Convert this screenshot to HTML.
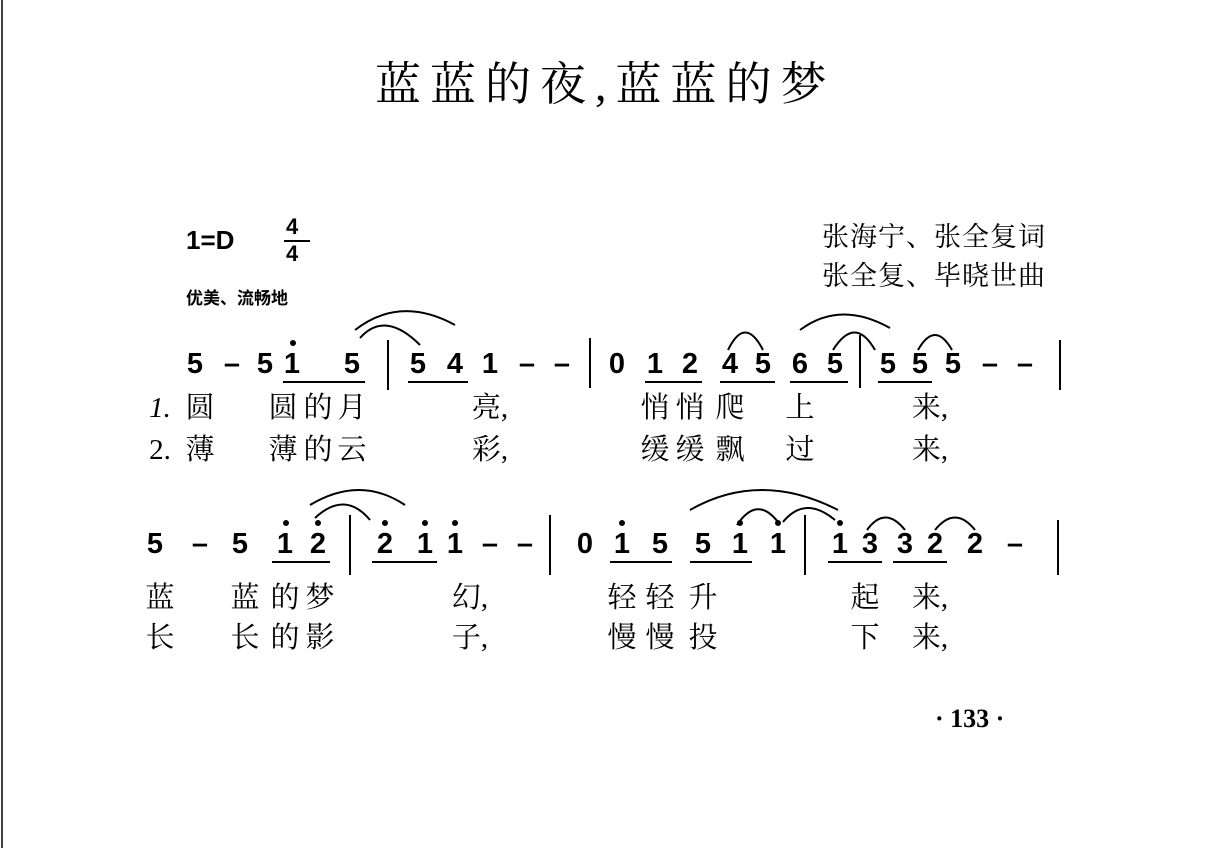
<!DOCTYPE html>
<html><head><meta charset="utf-8"><style>
body{margin:0;background:#fff;}
#p{position:relative;width:1226px;height:848px;overflow:hidden;background:#fff;font-family:"Liberation Sans","Noto Sans CJK SC",sans-serif;color:#000}
.n{position:absolute;font-weight:bold;font-size:29px;transform:translateX(-50%);line-height:1}
.l{position:absolute;font-family:"Liberation Serif","Noto Serif CJK SC",serif;font-size:29px;transform:translateX(-50%);line-height:1}
.t{position:absolute;line-height:1}
svg{position:absolute;left:0;top:0}
</style></head><body><div id="p">
<div class="t" style="left:375px;top:62px;font-size:46px;font-family:'Liberation Serif','Noto Serif CJK SC',serif;letter-spacing:9px">蓝蓝的夜,蓝蓝的梦</div>
<div class="t" style="left:186px;top:227px;font-size:26px;font-weight:bold">1=D</div>
<div class="t" style="left:286px;top:216px;font-size:22px;font-weight:bold">4</div>
<div class="t" style="left:286px;top:243px;font-size:22px;font-weight:bold">4</div>
<div class="t" style="left:186px;top:288px;font-size:17px;font-weight:bold;font-family:'Noto Sans CJK SC',sans-serif">优美、流畅地</div>
<div class="t" style="left:822px;top:224px;font-size:27px;font-family:'Liberation Serif','Noto Serif CJK SC',serif;letter-spacing:1px">张海宁、张全复词</div>
<div class="t" style="left:822px;top:263px;font-size:27px;font-family:'Liberation Serif','Noto Serif CJK SC',serif;letter-spacing:1px">张全复、毕晓世曲</div>
<div class="t" style="left:935px;top:706px;font-size:26px;font-weight:bold;font-family:'Liberation Serif',serif">· 133 ·</div>

<!-- row1 notes -->
<div class="n" style="left:195px;top:350px">5</div><div class="n" style="left:232px;top:350px">–</div>
<div class="n" style="left:265px;top:350px">5</div><div class="n" style="left:292px;top:350px">1</div>
<div class="n" style="left:352px;top:350px">5</div>
<div class="n" style="left:418px;top:350px">5</div><div class="n" style="left:455px;top:350px">4</div>
<div class="n" style="left:490px;top:350px">1</div><div class="n" style="left:527px;top:350px">–</div><div class="n" style="left:562px;top:350px">–</div>
<div class="n" style="left:617px;top:350px">0</div><div class="n" style="left:655px;top:350px">1</div><div class="n" style="left:690px;top:350px">2</div>
<div class="n" style="left:730px;top:350px">4</div><div class="n" style="left:763px;top:350px">5</div>
<div class="n" style="left:800px;top:350px">6</div><div class="n" style="left:835px;top:350px">5</div>
<div class="n" style="left:888px;top:350px">5</div><div class="n" style="left:920px;top:350px">5</div><div class="n" style="left:953px;top:350px">5</div>
<div class="n" style="left:990px;top:350px">–</div><div class="n" style="left:1025px;top:350px">–</div>
<!-- row1 lyrics -->
<div class="l" style="left:160px;top:394px;font-style:italic">1.</div>
<div class="l" style="left:200px;top:394px">圆</div><div class="l" style="left:283px;top:394px">圆</div>
<div class="l" style="left:318px;top:394px">的</div><div class="l" style="left:352px;top:394px">月</div>
<div class="l" style="left:490px;top:394px">亮,</div>
<div class="l" style="left:655px;top:394px">悄</div><div class="l" style="left:690px;top:394px">悄</div><div class="l" style="left:730px;top:394px">爬</div>
<div class="l" style="left:800px;top:394px">上</div><div class="l" style="left:930px;top:394px">来,</div>
<div class="l" style="left:160px;top:436px">2.</div>
<div class="l" style="left:200px;top:436px">薄</div><div class="l" style="left:283px;top:436px">薄</div>
<div class="l" style="left:318px;top:436px">的</div><div class="l" style="left:352px;top:436px">云</div>
<div class="l" style="left:490px;top:436px">彩,</div>
<div class="l" style="left:655px;top:436px">缓</div><div class="l" style="left:690px;top:436px">缓</div><div class="l" style="left:730px;top:436px">飘</div>
<div class="l" style="left:800px;top:436px">过</div><div class="l" style="left:930px;top:436px">来,</div>

<!-- row2 notes -->
<div class="n" style="left:155px;top:530px">5</div><div class="n" style="left:200px;top:530px">–</div>
<div class="n" style="left:240px;top:530px">5</div><div class="n" style="left:285px;top:530px">1</div><div class="n" style="left:318px;top:530px">2</div>
<div class="n" style="left:385px;top:530px">2</div><div class="n" style="left:425px;top:530px">1</div><div class="n" style="left:455px;top:530px">1</div>
<div class="n" style="left:490px;top:530px">–</div><div class="n" style="left:525px;top:530px">–</div>
<div class="n" style="left:585px;top:530px">0</div><div class="n" style="left:622px;top:530px">1</div><div class="n" style="left:660px;top:530px">5</div>
<div class="n" style="left:703px;top:530px">5</div><div class="n" style="left:740px;top:530px">1</div><div class="n" style="left:778px;top:530px">1</div>
<div class="n" style="left:840px;top:530px">1</div><div class="n" style="left:870px;top:530px">3</div>
<div class="n" style="left:905px;top:530px">3</div><div class="n" style="left:935px;top:530px">2</div>
<div class="n" style="left:975px;top:530px">2</div><div class="n" style="left:1015px;top:530px">–</div>
<!-- row2 lyrics -->
<div class="l" style="left:160px;top:584px">蓝</div><div class="l" style="left:245px;top:584px">蓝</div>
<div class="l" style="left:285px;top:584px">的</div><div class="l" style="left:320px;top:584px">梦</div>
<div class="l" style="left:470px;top:584px">幻,</div>
<div class="l" style="left:622px;top:584px">轻</div><div class="l" style="left:660px;top:584px">轻</div><div class="l" style="left:703px;top:584px">升</div>
<div class="l" style="left:865px;top:584px">起</div><div class="l" style="left:930px;top:584px">来,</div>
<div class="l" style="left:160px;top:624px">长</div><div class="l" style="left:245px;top:624px">长</div>
<div class="l" style="left:285px;top:624px">的</div><div class="l" style="left:320px;top:624px">影</div>
<div class="l" style="left:470px;top:624px">子,</div>
<div class="l" style="left:622px;top:624px">慢</div><div class="l" style="left:660px;top:624px">慢</div><div class="l" style="left:703px;top:624px">投</div>
<div class="l" style="left:865px;top:624px">下</div><div class="l" style="left:930px;top:624px">来,</div>

<svg width="1226" height="848" fill="none" stroke="#000" stroke-width="2">
<line x1="2" y1="0" x2="2" y2="848" stroke-width="1.5"/>
<line x1="284" y1="241" x2="310" y2="241"/>
<line x1="388" y1="340" x2="388" y2="390"/><line x1="590" y1="338" x2="590" y2="388"/>
<line x1="860" y1="335" x2="860" y2="388"/><line x1="1060" y1="340" x2="1060" y2="390"/>
<line x1="283" y1="382" x2="365" y2="382"/><line x1="408" y1="382" x2="468" y2="382"/>
<line x1="645" y1="382" x2="702" y2="382"/><line x1="720" y1="382" x2="775" y2="382"/>
<line x1="790" y1="382" x2="848" y2="382"/><line x1="878" y1="382" x2="932" y2="382"/>
<circle cx="293" cy="343" r="2" fill="#000"/>
<path d="M355 330 Q400 295 455 325"/><path d="M360 338 Q385 310 420 345"/>
<path d="M728 350 Q745 315 763 350"/><path d="M800 330 Q840 300 890 328"/><path d="M833 350 Q855 315 875 350"/>
<path d="M918 350 Q935 320 952 350"/>
<line x1="350" y1="515" x2="350" y2="575"/><line x1="550" y1="515" x2="550" y2="575"/>
<line x1="805" y1="515" x2="805" y2="575"/><line x1="1058" y1="520" x2="1058" y2="575"/>
<line x1="272" y1="562" x2="330" y2="562"/><line x1="372" y1="562" x2="437" y2="562"/>
<line x1="610" y1="562" x2="672" y2="562"/><line x1="690" y1="562" x2="752" y2="562"/>
<line x1="828" y1="562" x2="882" y2="562"/><line x1="893" y1="562" x2="947" y2="562"/>
<circle cx="286" cy="523" r="2" fill="#000"/><circle cx="318" cy="523" r="2" fill="#000"/>
<circle cx="385" cy="523" r="2" fill="#000"/><circle cx="425" cy="523" r="2" fill="#000"/>
<circle cx="455" cy="523" r="2" fill="#000"/><circle cx="622" cy="523" r="2" fill="#000"/>
<circle cx="740" cy="523" r="2" fill="#000"/><circle cx="778" cy="523" r="2" fill="#000"/>
<circle cx="840" cy="523" r="2" fill="#000"/>
<path d="M310 505 Q360 475 405 505"/><path d="M315 518 Q345 490 370 520"/>
<path d="M690 510 Q760 470 838 510"/><path d="M737 525 Q757 495 778 522"/><path d="M783 522 Q805 495 835 520"/>
<path d="M867 530 Q885 505 905 530"/><path d="M935 530 Q955 505 975 530"/>
</svg>
</div></body></html>
